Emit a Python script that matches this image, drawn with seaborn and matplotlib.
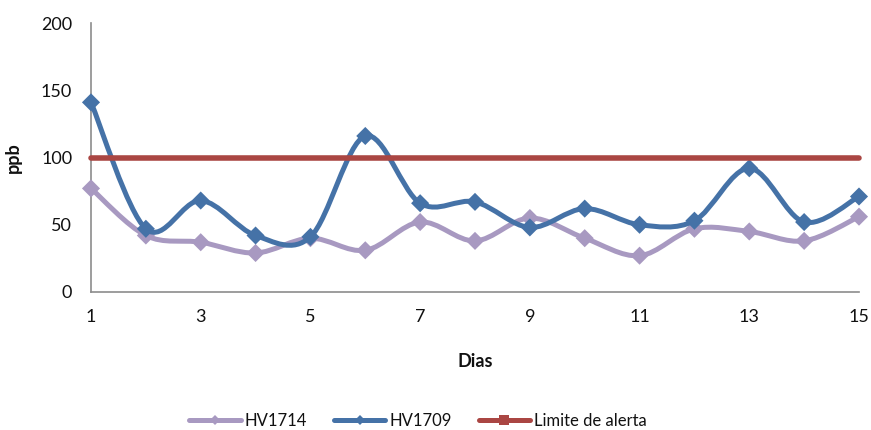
import numpy as np
import pandas as pd
import matplotlib
matplotlib.use("Agg")
import matplotlib.pyplot as plt
import seaborn as sns
from matplotlib.path import Path
from matplotlib.patches import PathPatch
from matplotlib.lines import Line2D

# Daily readings (ppb)
dias = list(range(1, 16))
hv1714 = [77, 42, 37, 29, 40, 31, 52, 38, 55, 40, 27, 47, 45, 38, 56]
hv1709 = [141, 47, 68, 42, 41, 116, 66, 67, 48, 62, 50, 53, 92, 52, 71]
limite = [100] * 15

series_names = ["HV1714", "HV1709", "Limite de alerta"]
x_ticks = [1, 3, 5, 7, 9, 11, 13, 15]
y_ticks = [0, 50, 100, 150, 200]

C_PURPLE = "#A899C1"
C_BLUE = "#4572A7"
C_RED = "#AA4643"
C_AXIS = "#8C8C8C"

sns.set_theme(style="white")
plt.rcParams["font.family"] = ["Lato", "DejaVu Sans"]


def smooth_path(x, y):
    """Cubic Bezier path through the points (Catmull-Rom style tangents)."""
    pts = np.column_stack([x, y]).astype(float)
    n = len(pts)
    verts = [pts[0]]
    codes = [Path.MOVETO]
    for i in range(n - 1):
        p0 = pts[i - 1] if i > 0 else pts[i]
        p1 = pts[i]
        p2 = pts[i + 1]
        p3 = pts[i + 2] if i + 2 < n else pts[i + 1]
        c1 = p1 + (p2 - p0) / 6.0
        c2 = p2 - (p3 - p1) / 6.0
        verts += [c1, c2, p2]
        codes += [Path.CURVE4] * 3
    return Path(verts, codes)


fig = plt.figure(figsize=(8.71, 4.30), dpi=100)
ax = fig.add_axes([91 / 871, 138 / 430, 768 / 871, 269 / 430])

df = pd.DataFrame({"dia": dias, "HV1714": hv1714, "HV1709": hv1709,
                   "Limite": limite})

# smoothed series lines + diamond markers
for col, color, z in [("HV1714", C_PURPLE, 3), ("HV1709", C_BLUE, 5)]:
    patch = PathPatch(smooth_path(df["dia"], df[col]), facecolor="none",
                      edgecolor=color, linewidth=3.6, capstyle="round",
                      joinstyle="round", zorder=z, clip_on=False)
    ax.add_patch(patch)
    sns.scatterplot(data=df, x="dia", y=col, marker="D", s=85, color=color,
                    edgecolor="none", linewidth=0, zorder=z + 0.5,
                    clip_on=False, ax=ax, legend=False)

# alert threshold
sns.lineplot(data=df, x="dia", y="Limite", color=C_RED, linewidth=4,
             zorder=7, ax=ax, legend=False, clip_on=False)

ax.set_xlim(1, 15)
ax.set_ylim(0, 200)
ax.set_xticks(x_ticks)
ax.set_yticks(y_ticks)
ax.tick_params(axis="both", which="major", length=4.5, width=1,
               color=C_AXIS, labelsize=13, labelcolor="#111111", direction="out")
ax.tick_params(axis="y", pad=9)
ax.tick_params(axis="x", pad=8)
for side in ["top", "right"]:
    ax.spines[side].set_visible(False)
for side in ["left", "bottom"]:
    ax.spines[side].set_color(C_AXIS)
    ax.spines[side].set_linewidth(1.2)

ax.set_xlabel("Dias", fontsize=13, fontweight="bold", color="#111111")
ax.set_ylabel("ppb", fontsize=13, fontweight="bold", color="#111111")
ax.xaxis.set_label_coords(0.5, -0.227)
ax.yaxis.set_label_coords(-0.0905, 0.5)

handles = [
    Line2D([], [], color=C_PURPLE, linewidth=3.6, marker="D", markersize=5,
           markeredgewidth=0),
    Line2D([], [], color=C_BLUE, linewidth=3.6, marker="D", markersize=5,
           markeredgewidth=0),
    Line2D([], [], color=C_RED, linewidth=3.6, marker="s", markersize=7,
           markeredgewidth=0),
]
fig.legend(handles, series_names, loc="center", bbox_to_anchor=(0.48, 0.022),
           ncol=3, frameon=False, fontsize=12, handlelength=3.1,
           handletextpad=0.25, columnspacing=1.6, labelcolor="#111111")

fig.savefig("out.png", dpi=100)
